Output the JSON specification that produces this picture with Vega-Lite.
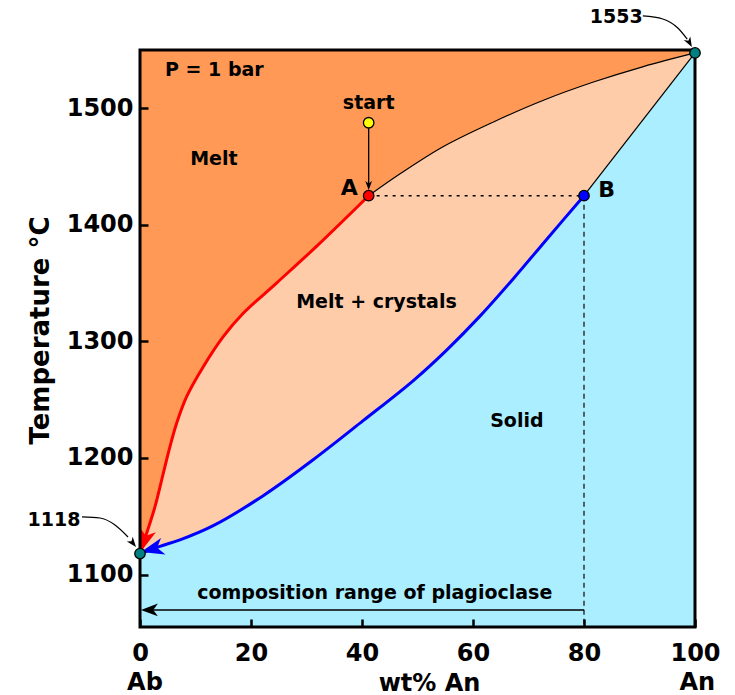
{
  "$schema": "https://vega.github.io/schema/vega-lite/v6.json",
  "width": 555,
  "height": 577,
  "autosize": {"type": "none"},
  "padding": {"left": 140, "top": 50, "right": 40, "bottom": 68},
  "background": "white",
  "config": {
    "view": {"fill": "#FF9955", "stroke": null},
    "font": "DejaVu Sans",
    "axis": {
      "labelFont": "DejaVu Sans", "labelFontWeight": "bold", "labelFontSize": 24, "labelColor": "black",
      "titleFont": "DejaVu Sans", "titleFontWeight": "bold", "titleFontSize": 24, "titleColor": "black",
      "domain": false, "grid": false, "tickColor": "black", "tickSize": -8, "tickWidth": 2.5, "labelFlush": false
    }
  },
  "datasets": {
    "liq": [
      {"x": 0, "T": 1118}, {"x": 1.2, "T": 1135.4}, {"x": 2.7, "T": 1158.2}, {"x": 4.2, "T": 1186.9},
      {"x": 5.4, "T": 1209.7}, {"x": 6.6, "T": 1229.8}, {"x": 8.4, "T": 1252.6}, {"x": 11.4, "T": 1278.3},
      {"x": 15.0, "T": 1304.1}, {"x": 18.6, "T": 1324.1}, {"x": 24.7, "T": 1350.5}, {"x": 31.9, "T": 1382.0},
      {"x": 41.2, "T": 1425}, {"x": 47.0, "T": 1444.2}, {"x": 54.6, "T": 1467.0}, {"x": 63.7, "T": 1488.3},
      {"x": 72.7, "T": 1506.9}, {"x": 81.7, "T": 1522.5}, {"x": 90.7, "T": 1535.8}, {"x": 100, "T": 1547.5}
    ],
    "sol": [
      {"x": 0, "T": 1118}, {"x": 3.6, "T": 1124.2}, {"x": 7.2, "T": 1129.7}, {"x": 13.2, "T": 1141.9},
      {"x": 22.2, "T": 1167.7}, {"x": 31.2, "T": 1198.5}, {"x": 40.2, "T": 1232.0}, {"x": 49.2, "T": 1266.2},
      {"x": 55.3, "T": 1292.8}, {"x": 61.3, "T": 1321.9}, {"x": 67.3, "T": 1354.0}, {"x": 73.3, "T": 1387.7},
      {"x": 80, "T": 1425}, {"x": 100, "T": 1547.5}
    ]
  },
  "encoding": {
    "x": {
      "field": "x", "type": "quantitative",
      "scale": {"domain": [0, 100], "nice": false, "zero": false},
      "axis": {"values": [0, 20, 40, 60, 80, 100], "format": "d", "title": "wt% An", "labelPadding": 22, "labelDx": 7,
               "titleX": 289, "titleY": 56, "titleBaseline": "middle", "titleAlign": "center", "zindex": 1}
    },
    "y": {
      "field": "T", "type": "quantitative",
      "scale": {"domain": [1055, 1550], "nice": false, "zero": false},
      "axis": {"values": [1100, 1200, 1300, 1400, 1500], "format": "d", "title": "Temperature °C", "labelPadding": 15,
               "titleX": -100, "titleY": 280, "titleBaseline": "middle", "titleAlign": "center", "titleAngle": -90,
               "titleFontSize": 26, "zindex": 1}
    }
  },
  "layer": [
    {"data": {"name": "liq"}, "mark": {"type": "area", "color": "#FFCCAA", "interpolate": "catmull-rom"},
     "encoding": {"y2": {"datum": 1055}}},
    {"data": {"name": "sol"}, "mark": {"type": "area", "color": "#AAEEFF", "interpolate": "catmull-rom"},
     "encoding": {"y2": {"datum": 1055}}},
    {"data": {"name": "liq"}, "transform": [{"filter": {"field": "x", "range": [0, 41.2]}}],
     "mark": {"type": "line", "color": "#FF0000", "strokeWidth": 3, "interpolate": "catmull-rom"}, "encoding": {}},
    {"data": {"name": "liq"}, "transform": [{"filter": {"field": "x", "range": [41.2, 100]}}],
     "mark": {"type": "line", "color": "black", "strokeWidth": 1.2, "interpolate": "catmull-rom"}, "encoding": {}},
    {"data": {"name": "sol"}, "transform": [{"filter": {"field": "x", "range": [0, 80]}}],
     "mark": {"type": "line", "color": "#0000FF", "strokeWidth": 3, "interpolate": "catmull-rom"}, "encoding": {}},
    {"data": {"name": "sol"}, "transform": [{"filter": {"field": "x", "range": [80, 100]}}],
     "mark": {"type": "line", "color": "black", "strokeWidth": 1.2}, "encoding": {}},
    {"data": {"values": [{"x": 41.2, "T": 1425}, {"x": 80, "T": 1425}]},
     "mark": {"type": "line", "color": "black", "strokeWidth": 1.5, "strokeDash": [3, 5]}, "encoding": {}},
    {"data": {"values": [{"x": 80, "T": 1425}, {"x": 80, "T": 1055}]},
     "mark": {"type": "line", "color": "#333333", "strokeWidth": 1.5, "strokeDash": [5, 4]}, "encoding": {}},
    {"data": {"values": [{"x": 41.2, "T": 1487.6}, {"x": 41.2, "T": 1432}]},
     "mark": {"type": "line", "color": "black", "strokeWidth": 1.3}, "encoding": {}},
    {"data": {"values": [{"x": 80, "T": 1069.6}, {"x": 1.5, "T": 1069.6}]},
     "mark": {"type": "line", "color": "black", "strokeWidth": 1.6}, "encoding": {}},
    {"data": {"values": [{"x": 90.6, "T": 1579.2}, {"x": 94.2, "T": 1576.6}, {"x": 96.9, "T": 1568.9}, {"x": 98.6, "T": 1559.4}]},
     "mark": {"type": "line", "color": "black", "strokeWidth": 1.2, "interpolate": "monotone", "clip": false}, "encoding": {}},
    {"data": {"values": [{"x": -10.45, "T": 1149.4}, {"x": -7.2, "T": 1148.5}, {"x": -4.5, "T": 1142.5}, {"x": -2.16, "T": 1132.2}]},
     "mark": {"type": "line", "color": "black", "strokeWidth": 1.2, "interpolate": "monotone", "clip": false}, "encoding": {}},
    {"data": {"values": [{"x": 0.76, "T": 1129.05}]},
     "mark": {"type": "point", "filled": true, "color": "#FF0000", "opacity": 1, "shape": "M0,-1L0.75,1L0,0.45L-0.75,1Z", "size": 529, "angle": 197.6}},
    {"data": {"values": [{"x": 2.18, "T": 1121.8}]},
     "mark": {"type": "point", "filled": true, "color": "#0000FF", "opacity": 1, "shape": "M0,-1L0.75,1L0,0.45L-0.75,1Z", "size": 529, "angle": 255.5}},
    {"data": {"values": [{"x": 41.2, "T": 1433.8}]},
     "mark": {"type": "point", "filled": true, "color": "black", "opacity": 1, "shape": "M0,-1L0.75,1L0,0.45L-0.75,1Z", "size": 81, "angle": 180}},
    {"data": {"values": [{"x": 1.7, "T": 1069.6}]},
     "mark": {"type": "point", "filled": true, "color": "black", "opacity": 1, "shape": "M0,-1L0.75,1L0,0.45L-0.75,1Z", "size": 289, "angle": 270}},
    {"data": {"values": [{"x": 99.0, "T": 1556.3}]},
     "mark": {"type": "point", "filled": true, "color": "black", "opacity": 1, "shape": "M0,-1L0.75,1L0,0.45L-0.75,1Z", "size": 100, "angle": 151, "clip": false}},
    {"data": {"values": [{"x": -1.28, "T": 1127.0}]},
     "mark": {"type": "point", "filled": true, "color": "black", "opacity": 1, "shape": "M0,-1L0.75,1L0,0.45L-0.75,1Z", "size": 100, "angle": 141.3, "clip": false}},
    {"data": {"values": [
       {"i": 0, "x": 0, "T": 1055}, {"i": 1, "x": 0, "T": 1550}, {"i": 2, "x": 100, "T": 1550},
       {"i": 3, "x": 100, "T": 1055}, {"i": 4, "x": 0, "T": 1055}]},
     "mark": {"type": "line", "color": "black", "strokeWidth": 3, "strokeJoin": "miter", "strokeCap": "square", "clip": false},
     "encoding": {"order": {"field": "i", "type": "quantitative"}}},
    {"data": {"values": [
       {"name": "end", "x": 0, "T": 1118}, {"name": "end", "x": 100, "T": 1547.5},
       {"name": "A", "x": 41.2, "T": 1425}, {"name": "B", "x": 80, "T": 1425}, {"name": "start", "x": 41.2, "T": 1487.6}]},
     "mark": {"type": "point", "filled": true, "opacity": 1, "size": 110, "stroke": "black", "strokeWidth": 1.3, "clip": false},
     "encoding": {"fill": {"field": "name", "type": "nominal", "legend": null,
       "scale": {"domain": ["end", "A", "B", "start"], "range": ["#008080", "#FF0000", "#0000FF", "#FFFF00"]}}}},
    {"data": {"values": [
       {"label": "P = 1 bar", "x": 13.4, "T": 1532.8}, {"label": "Melt", "x": 13.3, "T": 1456.5},
       {"label": "start", "x": 41.2, "T": 1504.5}, {"label": "Melt + crystals", "x": 42.6, "T": 1334.1},
       {"label": "Solid", "x": 67.9, "T": 1231.7}, {"label": "composition range of plagioclase", "x": 42.3, "T": 1084.2},
       {"label": "1553", "x": 85.8, "T": 1577.9}, {"label": "1118", "x": -15.5, "T": 1146.8}]},
     "mark": {"type": "text", "font": "DejaVu Sans", "fontWeight": "bold", "fontSize": 19, "color": "black", "align": "center", "baseline": "middle"},
     "encoding": {"text": {"field": "label"}}},
    {"data": {"values": [{"label": "A", "x": 37.7, "T": 1431.6}, {"label": "B", "x": 84.1, "T": 1430}]},
     "mark": {"type": "text", "font": "DejaVu Sans", "fontWeight": "bold", "fontSize": 22, "color": "black", "align": "center", "baseline": "middle"},
     "encoding": {"text": {"field": "label"}}},
    {"data": {"values": [{"label": "Ab", "x": 0.9, "T": 1007}, {"label": "An", "x": 100.4, "T": 1007}]},
     "mark": {"type": "text", "font": "DejaVu Sans", "fontWeight": "bold", "fontSize": 24, "color": "black", "align": "center", "baseline": "middle"},
     "encoding": {"text": {"field": "label"}}}
  ]
}
